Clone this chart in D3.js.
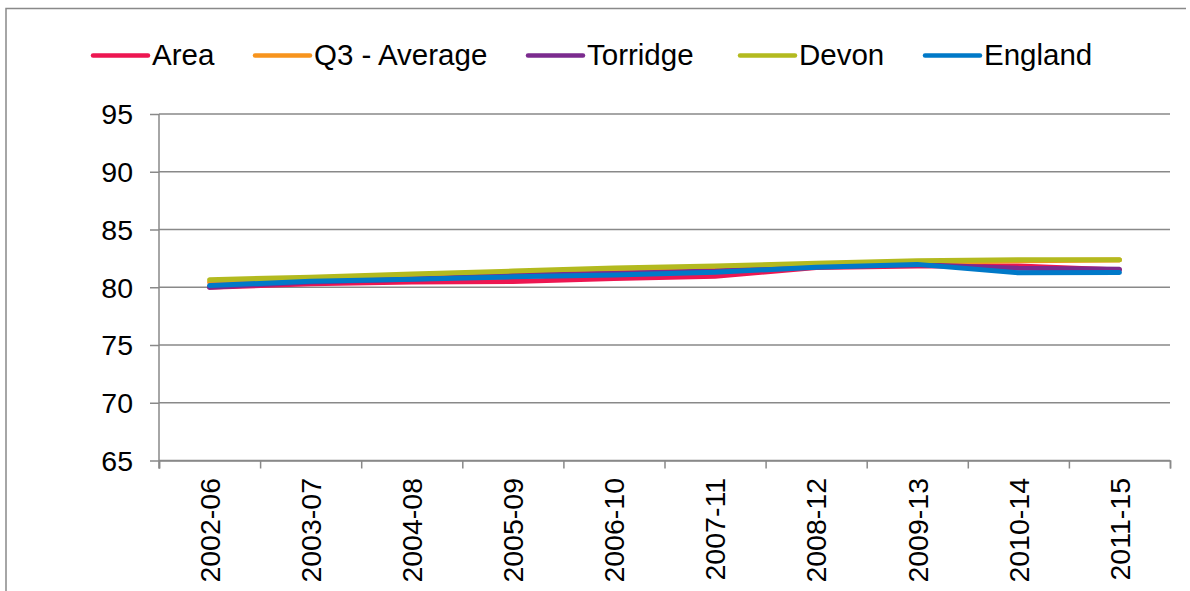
<!DOCTYPE html>
<html>
<head>
<meta charset="utf-8">
<script src="https://cdn.jsdelivr.net/npm/d3@7"></script>
<style>
  html, body { margin: 0; padding: 0; background: #fff; }
  svg { display: block; }
  text { font-family: "Liberation Sans", Arial, sans-serif; fill: #000; }
</style>
</head>
<body>
<svg id="chart" width="1190" height="591"></svg>
<script>
const categories = ["2002-06","2003-07","2004-08","2005-09","2006-10","2007-11","2008-12","2009-13","2010-14","2011-15"];
const area     = [80.0, 80.3, 80.45, 80.5, 80.75, 80.95, 81.7, 81.85, 81.85, 81.5];
const q3Avg    = [80.45, 80.75, 81.0, 81.2, 81.45, 81.65, 81.9, 82.1, 82.3, 82.35];
const torridge = [80.0, 80.45, 80.7, 81.05, 81.2, 81.4, 81.8, 81.95, 81.65, 81.55];
const devon    = [80.65, 80.87, 81.15, 81.4, 81.66, 81.85, 82.07, 82.3, 82.38, 82.38];
const england  = [80.15, 80.52, 80.7, 80.9, 81.07, 81.3, 81.73, 81.98, 81.25, 81.28];
const seriesNames = ["Area","Q3 - Average","Torridge","Devon","England"];
const seriesColors = ["#ED1651","#F7941D","#7B2B8E","#B3BA1F","#0079C8"];
const yTicks = [65,70,75,80,85,90,95];

const seriesValues = [area, q3Avg, torridge, devon, england];
const svg = d3.select("#chart");
const FS = 28.5;
const grid = "#898989";

// outer frame (top and left edges visible)
svg.append("path").attr("d","M6,600 V8.5 H1186").attr("fill","none").attr("stroke",grid).attr("stroke-width",1.5);

const pLeft = 159, pRight = 1170, pTop = 114, pBottom = 460.5;
const x = d3.scaleBand().domain(categories).range([pLeft, pRight]).padding(0);
const y = d3.scaleLinear().domain([65,95]).range([pBottom, pTop]);

// gridlines
svg.append("g").selectAll("line").data(yTicks).join("line")
  .attr("x1", pLeft).attr("x2", pRight)
  .attr("y1", d => y(d)).attr("y2", d => y(d))
  .attr("stroke", grid).attr("stroke-width", 1.5);

// y axis
const yAxis = svg.append("g").attr("transform", `translate(${pLeft},0)`)
  .call(d3.axisLeft(y).tickValues(yTicks).tickSize(9).tickPadding(17).tickFormat(d3.format("d")));
yAxis.select(".domain").remove();
yAxis.selectAll(".tick line").attr("stroke", grid).attr("stroke-width", 1.5);
yAxis.selectAll(".tick text").style("font-size", FS + "px").attr("font-family", null).attr("dy","0.35em");
svg.append("line").attr("x1", pLeft).attr("x2", pLeft).attr("y1", pTop).attr("y2", pBottom + 8)
  .attr("stroke", grid).attr("stroke-width", 1.5);

// x axis
const xb = d3.scaleLinear().domain([0, categories.length]).range([pLeft, pRight]);
const xAxis = svg.append("g").attr("transform", `translate(0,${pBottom})`)
  .call(d3.axisBottom(xb).tickValues(d3.range(0, categories.length + 1)).tickSize(8).tickFormat(""));
xAxis.select(".domain").attr("stroke", grid).attr("stroke-width", 1.5);
xAxis.selectAll(".tick line").attr("stroke", grid).attr("stroke-width", 1.5);

svg.append("g").selectAll("text").data(categories).join("text")
  .attr("transform", d => `translate(${x(d) + x.bandwidth()/2},478) rotate(-90)`)
  .attr("text-anchor", "end")
  .attr("dy", "0.36em")
  .style("font-size", FS + "px")
  .text(d => d);

// lines
const line = d3.line()
  .x((d, i) => x(categories[i]) + x.bandwidth()/2)
  .y(d => y(d));
svg.append("g").selectAll("path").data(seriesValues).join("path")
  .attr("d", d => line(d))
  .attr("fill", "none")
  .attr("stroke", (d, i) => seriesColors[i])
  .attr("stroke-width", 5)
  .attr("stroke-linecap", "round")
  .attr("stroke-linejoin", "round");

// legend
const legendX = [93, 255, 528, 740, 925];
const lg = svg.append("g");
seriesNames.forEach((name, i) => {
  const lx = legendX[i];
  lg.append("line").attr("x1", lx).attr("x2", lx + 55).attr("y1", 55.5).attr("y2", 55.5)
    .attr("stroke", seriesColors[i]).attr("stroke-width", 4.5).attr("stroke-linecap", "round");
  lg.append("text").attr("x", lx + 59).attr("y", 65).style("font-size", "29.5px").text(name);
});
</script>
</body>
</html>
